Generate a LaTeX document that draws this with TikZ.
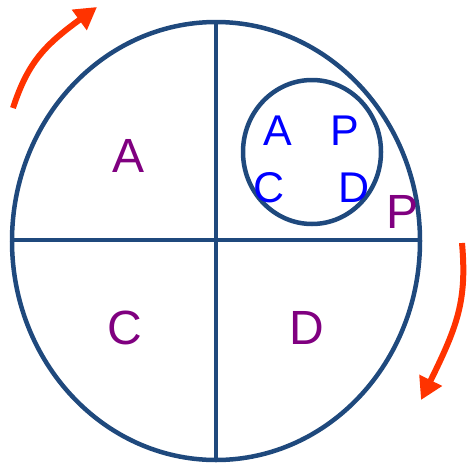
\documentclass[tikz,border=0pt]{standalone}
\usepackage{fontspec}
\setmainfont{Liberation Sans}
\usetikzlibrary{arrows.meta}
\definecolor{lineblue}{RGB}{31,73,125}
\definecolor{txtpurple}{RGB}{128,0,128}
\definecolor{txtblue}{RGB}{0,0,255}
\definecolor{arrred}{RGB}{255,51,0}
\tikzset{
  frame/.style={draw=lineblue, line width=4.5pt},
  bigtxt/.style={text=txtpurple, font=\fontsize{48}{48}\selectfont, inner sep=0pt},
  smalltxt/.style={text=txtblue, font=\fontsize{43}{43}\selectfont, inner sep=0pt},
  turn/.style={draw=arrred, line width=6pt, -{Triangle[length=22pt,width=24pt]}}
}
\begin{document}
\begin{tikzpicture}[x=1pt,y=-1pt]
\useasboundingbox (0,0) rectangle (468,466);
\draw[frame] (216,241) ellipse [x radius=204, y radius=219];
\draw[frame] (216,22) -- (216,460);
\draw[frame] (12,240) -- (420,240);
\draw[frame] (312,152) ellipse [x radius=69, y radius=72];
\node[bigtxt] (a) at (129,156) {A};
\node[bigtxt] (c) at (125,328) {C};
\node[bigtxt] (d) at (307,328) {D};
\node[bigtxt] (p) at (403,212) {P};
\node[smalltxt] (sa) at (278,131) {A};
\node[smalltxt] (sp) at (345,131) {P};
\node[smalltxt] (sc) at (269,188) {C};
\node[smalltxt] (sd) at (354,188) {D};
\coordinate (r1s) at (13,108);
\coordinate (r1e) at (97,7);
\coordinate (r2s) at (462,243);
\coordinate (r2e) at (421,400);
\draw[turn] (r1s) .. controls (28,62) and (45,45) .. (r1e);
\draw[turn] (r2s) .. controls (467,300) and (458,325) .. (r2e);
\end{tikzpicture}
\end{document}
